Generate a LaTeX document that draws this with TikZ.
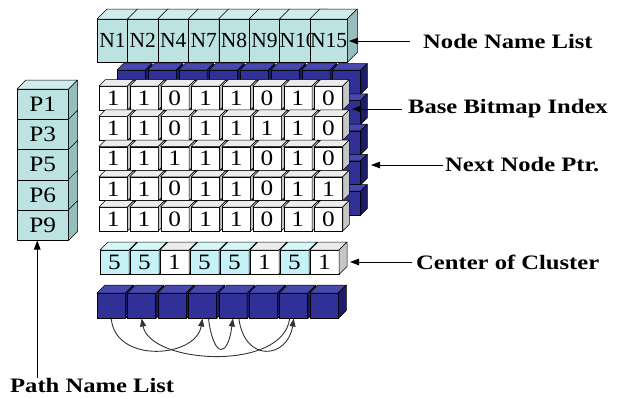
\documentclass[tikz,border=0pt]{standalone}
\usepackage{fontspec}
\setmainfont{Liberation Serif}
\newfontfamily\cellfont[FakeStretch=1.15]{Liberation Serif}
\newfontfamily\lblfont[FakeStretch=1.2]{Liberation Serif}
\usetikzlibrary{arrows.meta}
\definecolor{nlfront}{RGB}{188,226,226}
\definecolor{nltop}{RGB}{208,236,236}
\definecolor{nlside}{RGB}{150,190,190}
\definecolor{ccfront}{RGB}{196,242,247}
\definecolor{cctop}{RGB}{214,248,250}
\definecolor{ccside}{RGB}{160,205,210}
\definecolor{wtop}{RGB}{236,236,236}
\definecolor{wside}{RGB}{198,198,198}
\definecolor{bfront}{RGB}{48,48,150}
\definecolor{btop}{RGB}{72,72,172}
\definecolor{bside}{RGB}{28,28,105}
\newcommand{\topface}[3]{% name, depth, colour
  \filldraw[fill=#3, draw=black, line width=0.5pt, line join=round]
    (#1.north west) -- ++(#2,-#2) -- ([shift={(#2,-#2)}]#1.north east) -- (#1.north east) -- cycle;}
\newcommand{\sideface}[3]{% name, depth, colour
  \filldraw[fill=#3, draw=black, line width=0.5pt, line join=round]
    (#1.north east) -- ++(#2,-#2) -- ([shift={(#2,-#2)}]#1.south east) -- (#1.south east) -- cycle;}
\tikzset{
  cell/.style={draw=black, line width=0.5pt, inner sep=0pt, anchor=north west,
    font=\cellfont\fontsize{22}{24}\selectfont},
  lbl/.style={anchor=west, inner sep=0pt, font=\lblfont\bfseries\fontsize{20.5}{24}\selectfont},
  conn/.style={-{Triangle[length=9pt,width=6.5pt]}, line width=0.8pt},
  arcconn/.style={-{Triangle[length=8pt,width=6pt]}, line width=0.9pt, draw=black!80},
}
\begin{document}
\begin{tikzpicture}[x=1pt,y=-1pt]
\useasboundingbox (0,0) rectangle (624,399);
\fill[white] (0,0) rectangle (624,399);

% Node name list
\foreach \t [count=\i] in {N1,N2,N4,N7,N8,N9,N10,N15}{
  \node[cell, fill=nlfront, minimum width=30.4pt, minimum height=43pt,
        font=\fontsize{21.5}{24}\selectfont] (n\i) at ({97+30.4*(\i-1)},19) {\t};
  \topface{n\i}{10}{nltop}
  \sideface{n\i}{10}{nlside}
}

% Path name list
\foreach \t [count=\i] in {P1,P3,P5,P6,P9}{
  \node[cell, fill=nlfront, minimum width=51pt, minimum height=30.2pt,
        font=\cellfont\fontsize{22}{24}\selectfont] (p\i) at (17,{89+30.2*(\i-1)}) {\t};
  \sideface{p\i}{9}{nlside}
}
\topface{p1}{9}{nltop}

% Blue layer behind bitmap (next node pointers)
\foreach \r in {1,...,5}{
  \foreach \c in {1,...,8}{
    \node[cell, fill=bfront, minimum width=28pt, minimum height=23.5pt]
      (k-\r-\c) at ({99+30.75*(\c-1)+18},{86+30.25*(\r-1)-16}) {};
    \topface{k-\r-\c}{6.5}{btop}
    \sideface{k-\r-\c}{6.5}{bside}
  }
}

% Base bitmap index
\foreach \row [count=\r] in {{1,1,0,1,1,0,1,0},{1,1,0,1,1,1,1,0},{1,1,1,1,1,0,1,0},{1,1,0,1,1,0,1,1},{1,1,0,1,1,0,1,0}}{
  \foreach \v [count=\c] in \row {
    \node[cell, fill=white, minimum width=28pt, minimum height=23.5pt]
      (b-\r-\c) at ({99+30.75*(\c-1)},{86+30.25*(\r-1)}) {\v};
    \topface{b-\r-\c}{6.5}{wtop}
    \sideface{b-\r-\c}{6.5}{wside}
  }
}

% Center of cluster
\foreach \v/\f/\tp/\sd [count=\c] in {5/ccfront/cctop/ccside,5/ccfront/cctop/ccside,1/white/wtop/wside,5/ccfront/cctop/ccside,5/ccfront/cctop/ccside,1/white/wtop/wside,5/ccfront/cctop/ccside,1/white/wtop/wside}{
  \node[cell, fill=\f, minimum width=28.5pt, minimum height=24pt]
    (c\c) at ({100+30*(\c-1)},250) {\v};
  \topface{c\c}{8}{\tp}
  \sideface{c\c}{8}{\sd}
}

% Blue bottom row
\foreach \c in {1,...,8}{
  \node[cell, fill=bfront, minimum width=28pt, minimum height=25pt]
    (q\c) at ({97+30.4*(\c-1)},293) {};
  \topface{q\c}{8}{btop}
  \sideface{q\c}{8}{bside}
}

% Pointer arcs
\draw[arcconn] (q1.south) .. controls (115,364) and (196,358) .. (q4.south);
\draw[arcconn] ([xshift=6pt]q4.south) .. controls (214,360) and (228,357) .. (q5.south);
\draw[arcconn] ([xshift=6pt]q5.south) .. controls (245,364) and (288,358) .. (q7.south);
\draw[arcconn] ([xshift=-4pt]q7.south) .. controls (283,372) and (150,364) .. (q2.south);

% Labels
\node[lbl] (lnnl) at (423,41) {Node Name List};
\node[lbl] (lbbi) at (408,109) {Base Bitmap Index};
\node[lbl] (lnnp) at (445,165) {Next Node Ptr.};
\node[lbl] (lcoc) at (416,262) {Center of Cluster};
\node[lbl] (lpnl) at (10,385) {Path Name List};

\coordinate (tnnl) at (349,41);
\coordinate (tbbi) at (352,109);
\coordinate (tnnp) at (371,165);
\coordinate (tcoc) at (350,262);
\coordinate (tpnl) at ([xshift=-5.5pt]p5.south);

\draw[conn] ([xshift=-13pt]lnnl.west) -- (tnnl);
\draw[conn] ([xshift=-6pt]lbbi.west) -- (tbbi);
\draw[conn] ([xshift=-2pt]lnnp.west) -- (tnnp);
\draw[conn] ([xshift=-4pt]lcoc.west) -- (tcoc);
\draw[conn] (lpnl.north -| tpnl) -- (tpnl);
\end{tikzpicture}
\end{document}
